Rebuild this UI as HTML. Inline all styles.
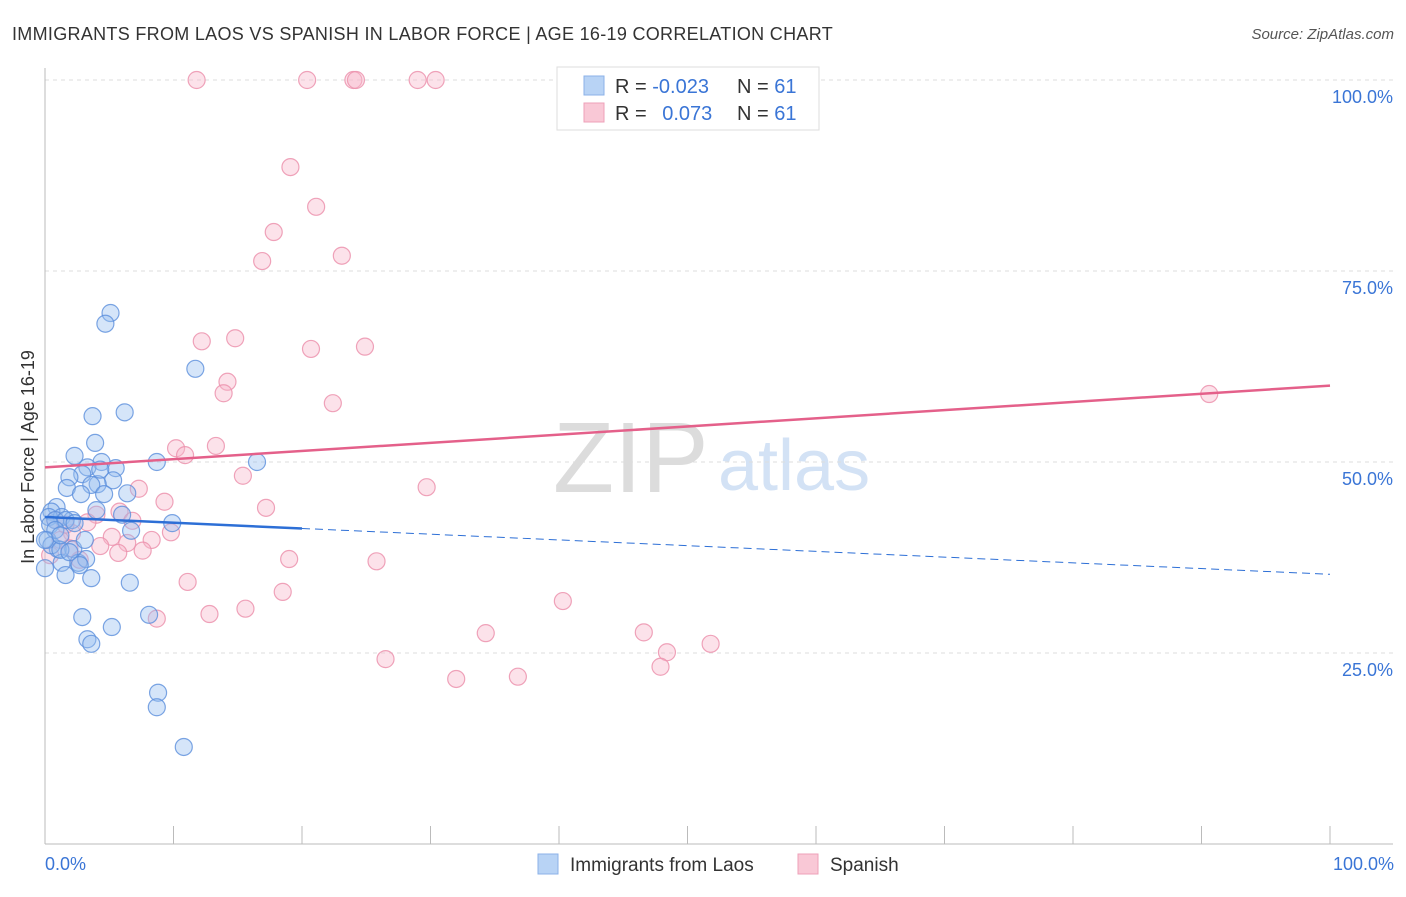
<!DOCTYPE html>
<html><head><meta charset="utf-8"><style>
body{margin:0;background:#fff;font-family:"Liberation Sans",sans-serif;}
svg text{font-family:"Liberation Sans",sans-serif;}
</style></head><body>
<svg id="c" width="1406" height="892">
<text x="12" y="40" font-size="18" fill="#333" letter-spacing="0.3" textLength="821">IMMIGRANTS FROM LAOS VS SPANISH IN LABOR FORCE | AGE 16-19 CORRELATION CHART</text>
<text x="1394" y="39" font-size="15" fill="#555" font-style="italic" text-anchor="end">Source: ZipAtlas.com</text>
<text x="553" y="492" font-size="100" fill="#dcdcdc" font-family="Liberation Serif">ZIP</text>
<text x="718" y="490" font-size="72" fill="#d3e2f5">atlas</text>
<g id="grid"></g><g id="marks"></g>
<text transform="translate(34,457) rotate(-90)" font-size="18" fill="#333" text-anchor="middle">In Labor Force | Age 16-19</text>
<text x="45" y="870" font-size="18" fill="#3a75d6">0.0%</text>
<text x="1394" y="870" font-size="18" fill="#3a75d6" text-anchor="end">100.0%</text>
<g>
<rect x="557" y="67" width="262" height="63" fill="#fff" stroke="#ddd"/>
<rect x="584" y="76" width="20" height="19" fill="#b8d3f5" stroke="#8bb2e8"/>
<rect x="584" y="103" width="20" height="19" fill="#f9c8d6" stroke="#eea0b8"/>
<text x="615" y="93" font-size="20" fill="#333">R = <tspan fill="#3a75d6">-0.023</tspan></text>
<text x="737" y="93" font-size="20" fill="#333">N = <tspan fill="#3a75d6">61</tspan></text>
<text x="615" y="120" font-size="20" fill="#333">R = <tspan fill="#3a75d6" dx="10">0.073</tspan></text>
<text x="737" y="120" font-size="20" fill="#333">N = <tspan fill="#3a75d6">61</tspan></text>
</g>
<g>
<rect x="538" y="854" width="20" height="20" fill="#b8d3f5" stroke="#8bb2e8"/>
<text x="570" y="871" font-size="19" fill="#333">Immigrants from Laos</text>
<rect x="798" y="854" width="20" height="20" fill="#f9c8d6" stroke="#eea0b8"/>
<text x="830" y="871" font-size="19" fill="#333">Spanish</text>
</g>
</svg>
<script>
const yTicks=[25,50,75,100];
const yTickLabels=["25.0%","50.0%","75.0%","100.0%"];
const xTicks=[0,10,20,30,40,50,60,70,80,90,100];
const laosX=[5.1,4.7,11.7,6.2,3.7,3.9,2.3,4.4,8.7,16.5,3.3,5.5,2.9,1.9,5.3,1.7,4.1,3.6,2.8,4.6,6.4,4.0,0.9,0.5,1.3,0.3,0.8,2.1,6.0,9.9,6.7,1.0,2.2,0.2,1.3,2.6,3.2,1.6,3.6,6.6,2.9,8.1,5.2,3.3,3.6,8.8,8.7,10.8,0,0.5,1.2,1.9,2.7,0.4,1.6,2.3,3.1,0.8,0,1.2,4.3];
const laosY=[69.5,68.1,62.2,56.5,56.0,52.5,50.8,50.0,50.0,50.0,49.3,49.2,48.4,48.0,47.6,46.6,47.1,47.0,45.8,45.8,45.9,43.7,44.1,43.5,42.8,42.8,42.4,42.4,43.1,42.0,41.0,38.6,38.6,39.8,36.8,36.8,37.3,35.2,34.8,34.2,29.7,30.0,28.4,26.8,26.2,19.8,17.9,12.7,36.1,39.1,38.5,38.2,36.5,41.8,42.4,42.0,39.8,41.1,39.8,40.4,49.0];
const spanX=[11.8,20.4,24.0,24.2,29.0,30.4,19.1,21.1,17.8,16.9,23.1,12.2,14.8,20.7,24.9,14.2,13.9,22.4,10.2,13.3,10.9,15.4,29.7,7.3,9.3,17.2,4.0,5.8,3.3,6.8,9.8,2.1,5.2,8.3,4.3,6.4,19.0,25.8,5.7,7.6,11.1,18.5,15.6,12.8,40.3,8.7,34.3,46.6,51.8,48.4,26.5,47.9,36.8,32.0,90.6,1.2,1.9,0.4,2.7,0.8,1.6];
const spanY=[100,100,100,100,100,100,88.6,83.4,80.1,76.3,77.0,65.8,66.2,64.8,65.1,60.5,59.0,57.7,51.8,52.1,50.9,48.2,46.7,46.5,44.8,44.0,43.1,43.5,42.1,42.3,40.8,40.7,40.2,39.8,39.0,39.4,37.3,37.0,38.1,38.4,34.3,33.0,30.8,30.1,31.8,29.5,27.6,27.7,26.2,25.1,24.2,23.2,21.9,21.6,58.9,39.8,38.7,37.8,37.2,42.4,41.8];
const laosTrend=[42.8,35.3];
const spanTrend=[49.3,60.0];
const laosSolidEnd=20;
const NS="http://www.w3.org/2000/svg";
const sx=v=>45+v*12.85, sy=v=>844-v*7.64;
function mk(t,a,p){const e=document.createElementNS(NS,t);for(const k in a)e.setAttribute(k,a[k]);p.appendChild(e);return e;}
const g=document.getElementById('grid'),m=document.getElementById('marks');
yTicks.forEach((t,i)=>{
 const l=mk('line',{x1:45,x2:1393,y1:sy(t),y2:sy(t),stroke:'#ddd','stroke-dasharray':'4,4'},g);
 
 
 const tx=mk('text',{x:1393,y:sy(t)+23,'font-size':18,fill:'#3a75d6','text-anchor':'end'},g);
 tx.textContent=yTickLabels[i];
 
 
});
const ax=mk('line',{x1:45,x2:1393,y1:844,y2:844,stroke:'#bbb'},g);


const ay=mk('line',{x1:45,x2:45,y1:68,y2:844,stroke:'#bbb'},g);


xTicks.forEach(t=>{
 const l=mk('line',{x1:sx(t),x2:sx(t),y1:826,y2:844,stroke:'#bbb'},g);
 
 
});
function pts(X,Y,fill,stroke,name){
 X.forEach((x,i)=>{
  const c=mk('circle',{cx:sx(x),cy:sy(Y[i]),r:8.5,fill:fill,stroke:stroke,'stroke-width':1.2},m);
  
  
 });
}
pts(spanX,spanY,'rgba(248,182,202,0.4)','rgba(236,147,174,0.85)','spanish-point');
pts(laosX,laosY,'rgba(150,190,240,0.4)','rgba(91,143,220,0.8)','laos-point');
const ty=(tr,x)=>tr[0]+(tr[1]-tr[0])*x/100;
const ps=mk('line',{x1:sx(0),y1:sy(ty(spanTrend,0)),x2:sx(100),y2:sy(ty(spanTrend,100)),stroke:'#e4608a','stroke-width':2.5},m);


const bs=mk('line',{x1:sx(0),y1:sy(ty(laosTrend,0)),x2:sx(laosSolidEnd),y2:sy(ty(laosTrend,laosSolidEnd)),stroke:'#2d6fd6','stroke-width':2.5},m);


const bd=mk('line',{x1:sx(laosSolidEnd),y1:sy(ty(laosTrend,laosSolidEnd)),x2:sx(100),y2:sy(ty(laosTrend,100)),stroke:'#2d6fd6','stroke-width':1,'stroke-dasharray':'8,5'},m);


</script>
</body></html>
